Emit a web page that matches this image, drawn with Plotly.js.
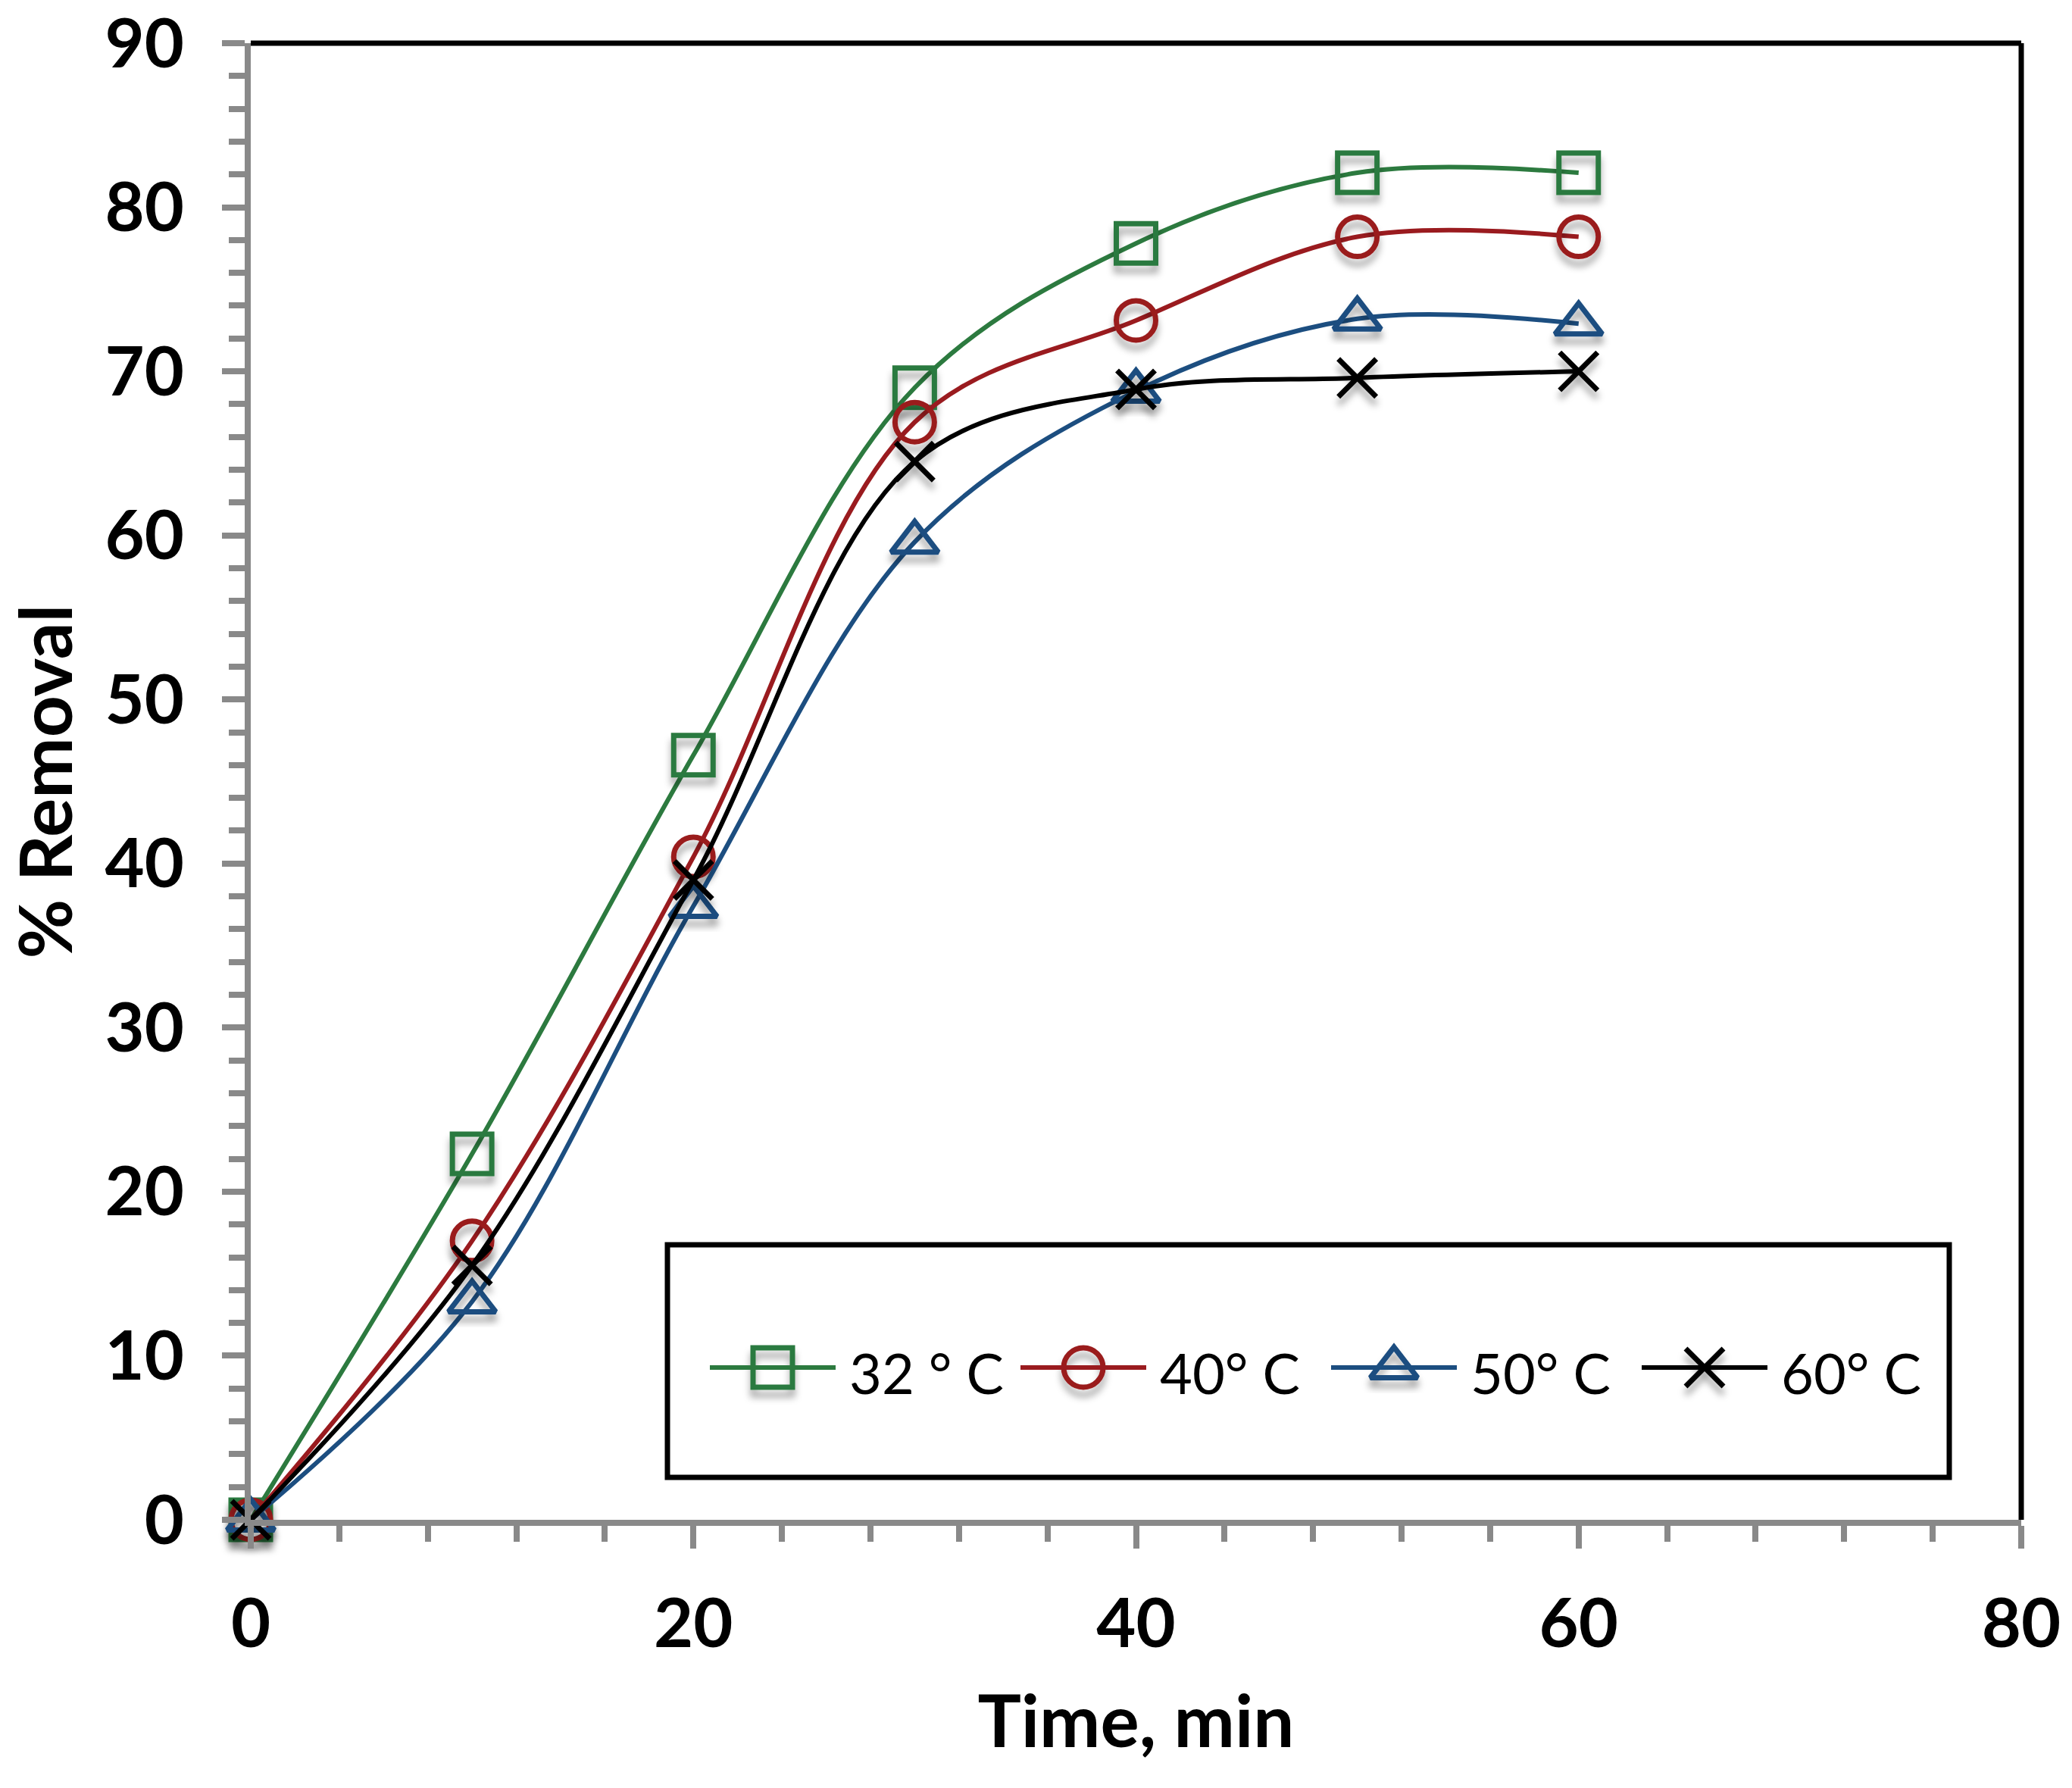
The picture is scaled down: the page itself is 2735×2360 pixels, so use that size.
<!DOCTYPE html>
<html>
<head>
<meta charset="utf-8">
<script src="https://cdn.plot.ly/plotly-3.0.1.min.js"></script>
<style>html,body{margin:0;padding:0;background:#fff;}#chart{width:2735px;height:2360px;}</style>
</head>
<body>
<div id="chart"></div>
<script>
var time = [0, 10, 20, 30, 40, 50, 60];
var removal32 = [0, 22.3, 46.6, 69.0, 77.8, 82.1, 82.1];
var removal40 = [0, 17.0, 40.4, 66.9, 73.1, 78.2, 78.2];
var removal50 = [0, 13.3, 37.4, 59.6, 68.8, 73.2, 72.9];
var removal60 = [0, 15.5, 39.0, 64.5, 68.9, 69.6, 70.0];
var seriesNames = ['32 ° C', '40° C', '50° C', '60° C'];
var seriesColors = ['#2C7A3F', '#9A1B1F', '#1C4E80', '#000000'];
var seriesSymbols = ['square-open', 'circle-open', 'triangle-up-open', 'x-thin-open'];
var seriesValues = [removal32, removal40, removal50, removal60];
var xTicks = [0, 20, 40, 60, 80];
var yTicks = [0, 10, 20, 30, 40, 50, 60, 70, 80, 90];

// plot-area geometry (px) used for the hand-built legend
var W = 2735, H = 2360;
var M = {l: 331, r: 67, t: 57, b: 354};
var plotW = W - M.l - M.r, plotH = H - M.t - M.b;
function px2x(p) { return (p - M.l) / plotW; }
function px2y(p) { return (H - M.b - p) / plotH; }
var legendKeyStartPx = 937, legendItemStepPx = 410, legendKeyLenPx = 166, legendTextGapPx = 16, legendRowPx = 1805;

var markerSizes = [52, 52, 54, 50];
function markerStyle(i) {
  return {symbol: seriesSymbols[i], size: markerSizes[i], color: seriesColors[i],
          line: {color: seriesColors[i], width: 7}};
}

var traces = seriesValues.map(function (vals, i) {
  return {
    x: time, y: vals, name: seriesNames[i], type: 'scatter', mode: 'lines+markers',
    line: {color: seriesColors[i], width: 6, shape: 'spline', smoothing: 1},
    marker: markerStyle(i), cliponaxis: false, showlegend: false
  };
});

var legendShapes = [], legendAnnots = [];
seriesNames.forEach(function (nm, i) {
  var x0 = legendKeyStartPx + i * legendItemStepPx;
  legendShapes.push({type: 'line', xref: 'paper', yref: 'paper',
    x0: px2x(x0), x1: px2x(x0 + legendKeyLenPx), y0: px2y(legendRowPx), y1: px2y(legendRowPx),
    line: {color: seriesColors[i], width: 6}});
  legendAnnots.push({xref: 'paper', yref: 'paper', x: px2x(x0 + legendKeyLenPx + legendTextGapPx),
    y: px2y(legendRowPx + 6), xanchor: 'left', yanchor: 'middle', showarrow: false, text: nm,
    font: {family: 'Lato, sans-serif', size: 74, color: '#000'}});
  traces.push({x: [px2x(x0 + legendKeyLenPx / 2)], y: [px2y(legendRowPx)], xaxis: 'x2', yaxis: 'y2',
    type: 'scatter', mode: 'markers', marker: markerStyle(i), showlegend: false, cliponaxis: false,
    hoverinfo: 'skip'});
});

var axisGrey = '#898989';
var layout = {
  width: W, height: H,
  margin: M,
  paper_bgcolor: '#fff', plot_bgcolor: '#fff',
  showlegend: false,
  font: {family: 'Lato, sans-serif', color: '#000'},
  xaxis: {
    range: [0, 80], tickvals: xTicks, ticktext: xTicks.map(String),
    showgrid: false, zeroline: false, showline: true, linecolor: axisGrey, linewidth: 8,
    ticks: 'outside', ticklen: 30, tickwidth: 8, tickcolor: axisGrey,
    minor: {dtick: 4, ticks: 'outside', ticklen: 21, tickwidth: 8, tickcolor: axisGrey},
    tickfont: {family: 'Lato, sans-serif', size: 90, color: '#000', weight: 'bold'},
    ticklabelstandoff: 22, ticklabeloverflow: 'allow',
    title: {text: '<b>Time, min</b>', font: {family: 'Lato, sans-serif', size: 96, color: '#000'}, standoff: 50}
  },
  yaxis: {
    range: [0, 90], tickvals: yTicks, ticktext: yTicks.map(String),
    showgrid: false, zeroline: false, showline: true, linecolor: axisGrey, linewidth: 8,
    ticks: 'outside', ticklen: 30, tickwidth: 8, tickcolor: axisGrey,
    minor: {dtick: 2, ticks: 'outside', ticklen: 21, tickwidth: 8, tickcolor: axisGrey},
    tickfont: {family: 'Lato, sans-serif', size: 90, color: '#000', weight: 'bold'},
    ticklabelstandoff: 32, ticklabeloverflow: 'allow',
    title: {text: '<b>% Removal</b>', font: {family: 'Lato, sans-serif', size: 96, color: '#000'}, standoff: 42}
  },
  xaxis2: {overlaying: 'x', range: [0, 1], visible: false, fixedrange: true},
  yaxis2: {overlaying: 'y', range: [0, 1], visible: false, fixedrange: true},
  annotations: legendAnnots,
  shapes: [
    {type: 'line', xref: 'paper', yref: 'paper', x0: 0, x1: 1, y0: 1, y1: 1, line: {color: '#000', width: 7}},
    {type: 'line', xref: 'paper', yref: 'paper', x0: 1, x1: 1, y0: 0, y1: 1, line: {color: '#000', width: 7}},
    {type: 'rect', xref: 'paper', yref: 'paper', x0: px2x(881), x1: px2x(2573), y0: px2y(1950), y1: px2y(1643),
     line: {color: '#000', width: 7}, fillcolor: '#fff', layer: 'below'}
  ].concat(legendShapes)
};

Plotly.newPlot('chart', traces, layout, {displayModeBar: false, staticPlot: true}).then(function (gd) {
  var svg = gd.querySelector('svg.main-svg');
  var ns = 'http://www.w3.org/2000/svg';
  var defs = svg.querySelector('defs') || svg.insertBefore(document.createElementNS(ns, 'defs'), svg.firstChild);
  var f = document.createElementNS(ns, 'filter');
  f.setAttribute('id', 'mkshadow'); f.setAttribute('x', '-50%'); f.setAttribute('y', '-50%');
  f.setAttribute('width', '200%'); f.setAttribute('height', '200%');
  f.innerHTML = '<feDropShadow dx="0" dy="10" stdDeviation="5" flood-color="#000" flood-opacity="0.35"/>';
  defs.appendChild(f);
  gd.querySelectorAll('.scatterlayer .points path').forEach(function (p) {
    p.setAttribute('filter', 'url(#mkshadow)');
  });
});
</script>
</body>
</html>
